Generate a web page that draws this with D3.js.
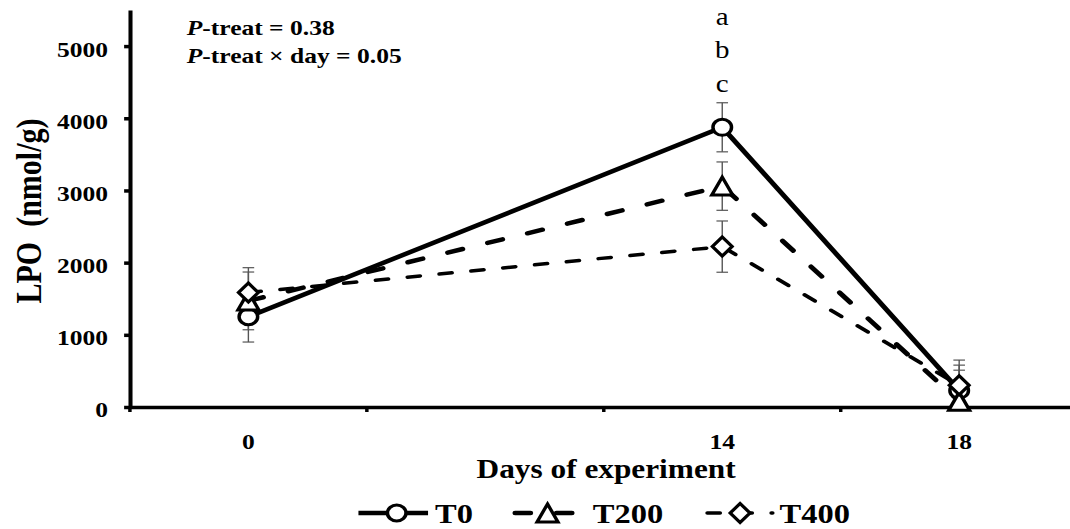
<!DOCTYPE html>
<html>
<head>
<meta charset="utf-8">
<script src="https://d3js.org/d3.v7.min.js"></script>
<style>
    html, body { margin: 0; padding: 0; background: #fff; }
    svg { display: block; }
</style>
</head>
<body>
<div id="chart"></div>
<script>
// Values
const categories = ["0", "", "14", "18"];   // x bins; the second bin has no data
const days = ["0", "14", "18"];
const yTicks = [0, 1000, 2000, 3000, 4000, 5000];
const seriesNames = ["T0", "T200", "T400"];
const t0 = [1250, 3875, 230];
const t0Se = [350, 340, 350];
const t200 = [1470, 3060, 80];
const t200Se = [400, 335, 430];
const t400 = [1585, 2222, 300];
const t400Se = [345, 355, 350];
const pNotes = ["-treat = 0.38", "-treat \u00d7 day = 0.05"];
const sigLetters = ["a", "b", "c"];

(() => {
    // Style configuration
    const styles = {
        font: "'Liberation Serif', 'Times New Roman', Times, serif",
        axisWidth: 3.5,
        errColor: "#555",
        errWidth: 1.2,
        markerStroke: 3,
        series: {
            T0:   { width: 4.5, dash: null,        marker: "circle" },
            T200: { width: 4.5, dash: "13.4,22.3", marker: "triangle" },
            T400: { width: 3.5, dash: "11,16.6",   marker: "diamond" }
        }
    };

    const width = 1070;
    const height = 529;
    const stretch = 1.16;               // the original figure is stretched sideways
    const vbWidth = width / stretch;

    const values = [t0, t200, t400];
    const errors = [t0Se, t200Se, t400Se];
    const series = seriesNames.map((name, i) => ({
        name,
        values: values[i],
        se: errors[i],
        ...styles.series[name]
    }));

    const svg = d3.select("#chart").append("svg")
        .attr("width", width)
        .attr("height", height)
        .attr("viewBox", `0 0 ${vbWidth} ${height}`)
        .attr("preserveAspectRatio", "none")
        .style("font-family", styles.font);

    const x = d3.scaleBand()
        .domain(categories)
        .range([112, 929])
        .paddingInner(0)
        .paddingOuter(0);
    const cx = d => x(d) + x.bandwidth() / 2;

    const y = d3.scaleLinear()
        .domain([0, 5500])
        .range([407, 10]);

    // marker shapes around the point
    const markerPath = type => {
        if (type === "circle") return d3.symbol().type(d3.symbolCircle).size(Math.PI * 64)();
        if (type === "triangle") return "M0,-9L9,9L-9,9Z";
        return "M0,-9.5L8.5,0L0,9.5L-8.5,0Z";
    };

    const drawMarker = (g, type, tx, ty) => {
        g.append("path")
            .attr("d", markerPath(type))
            .attr("transform", `translate(${tx},${ty})`)
            .attr("fill", "#fff")
            .attr("stroke", "#000")
            .attr("stroke-width", styles.markerStroke)
            .attr("stroke-linejoin", "miter");
    };

    // y axis
    const yAxis = svg.append("g")
        .attr("transform", `translate(${x.range()[0]},0)`)
        .call(d3.axisLeft(y).tickValues(yTicks).tickFormat(d3.format("d"))
            .tickSize(5).tickSizeOuter(0).tickPadding(14));
    yAxis.selectAll("path, line").attr("stroke", "#000").attr("stroke-width", styles.axisWidth);
    yAxis.selectAll("text")
        .attr("dy", "0.45em")
        .style("font-family", styles.font)
        .style("font-size", "22px")
        .style("font-weight", "bold")
        .attr("fill", "#000");

    // x axis: labels in the bins, tick marks on the bin edges
    const xAxis = svg.append("g")
        .attr("transform", `translate(0,${y(0)})`)
        .call(d3.axisBottom(x).tickSize(0).tickSizeOuter(0).tickPadding(26));
    xAxis.select(".domain").attr("stroke", "#000").attr("stroke-width", styles.axisWidth);
    xAxis.selectAll("text")
        .style("font-family", styles.font)
        .style("font-size", "22px")
        .style("font-weight", "bold")
        .attr("fill", "#000");
    xAxis.selectAll(".edge")
        .data(categories)
        .enter().append("line")
        .attr("class", "edge")
        .attr("x1", d => x(d))
        .attr("x2", d => x(d))
        .attr("y1", 0)
        .attr("y2", 5)
        .attr("stroke", "#000")
        .attr("stroke-width", 3);

    // axis titles
    svg.append("text")
        .attr("transform", "translate(35,211) rotate(-90)")
        .attr("text-anchor", "middle")
        .style("font-size", "30px")
        .style("font-weight", "bold")
        .style("white-space", "pre")
        .attr("xml:space", "preserve")
        .text("LPO  (nmol/g)");

    svg.append("text")
        .attr("x", (x.range()[0] + x.range()[1]) / 2 + 2)
        .attr("y", 478)
        .attr("text-anchor", "middle")
        .style("font-size", "27px")
        .style("font-weight", "bold")
        .text("Days of experiment");

    // plot clip so error bars stop at zero
    svg.append("clipPath").attr("id", "plotClip")
        .append("rect")
        .attr("x", 0).attr("y", 0)
        .attr("width", vbWidth).attr("height", y(0));

    const plot = svg.append("g").attr("clip-path", "url(#plotClip)");

    // error bars
    series.forEach(s => {
        s.values.forEach((v, i) => {
            const px = cx(days[i]);
            const lo = y(v - s.se[i]);
            const hi = y(v + s.se[i]);
            const eb = plot.append("g")
                .attr("stroke", styles.errColor)
                .attr("stroke-width", styles.errWidth);
            eb.append("line").attr("x1", px).attr("x2", px).attr("y1", lo).attr("y2", hi);
            [lo, hi].forEach(yy => {
                eb.append("line")
                    .attr("x1", px - 5).attr("x2", px + 5)
                    .attr("y1", yy).attr("y2", yy);
            });
        });
    });

    // lines and markers
    const line = d3.line()
        .x((d, i) => cx(days[i]))
        .y(d => y(d));

    series.forEach(s => {
        svg.append("path")
            .datum(s.values)
            .attr("fill", "none")
            .attr("stroke", "#000")
            .attr("stroke-width", s.width)
            .attr("stroke-linecap", s.dash ? "round" : "butt")
            .attr("stroke-dasharray", s.dash)
            .attr("d", line);
    });

    series.forEach(s => {
        s.values.forEach((v, i) => drawMarker(svg, s.marker, cx(days[i]), y(v)));
    });

    // significance letters above day 14
    svg.selectAll(".sig")
        .data(sigLetters)
        .enter().append("text")
        .attr("class", "sig")
        .attr("x", cx("14"))
        .attr("y", (d, i) => 25 + i * 33.5)
        .attr("text-anchor", "middle")
        .style("font-size", "25px")
        .text(d => d);

    // P values
    pNotes.forEach((note, i) => {
        const t = svg.append("text")
            .attr("x", 161)
            .attr("y", 35 + i * 28)
            .style("font-size", "22px")
            .style("font-weight", "bold");
        t.append("tspan").style("font-style", "italic").text("P");
        t.append("tspan").text(note);
    });

    // legend
    const legendY = 513;
    const legendItems = [
        { x1: 309, x2: 369, mx: 342, tx: 375 },
        { x1: 444, x2: 500, mx: 472, tx: 511 },
        { x1: 609.75, x2: 666, mx: 638, tx: 672 }
    ];
    series.forEach((s, i) => {
        const li = legendItems[i];
        const g = svg.append("g");
        g.append("line")
            .attr("x1", li.x1).attr("x2", li.x2)
            .attr("y1", legendY).attr("y2", legendY)
            .attr("stroke", "#000")
            .attr("stroke-width", s.width)
            .attr("stroke-linecap", s.dash ? "round" : "butt")
            .attr("stroke-dasharray", s.dash);
        drawMarker(g, s.marker, li.mx, legendY);
        g.append("text")
            .attr("x", li.tx)
            .attr("y", legendY + 10)
            .style("font-size", "28px")
            .style("font-weight", "bold")
            .text(s.name);
    });
})();
</script>
</body>
</html>
